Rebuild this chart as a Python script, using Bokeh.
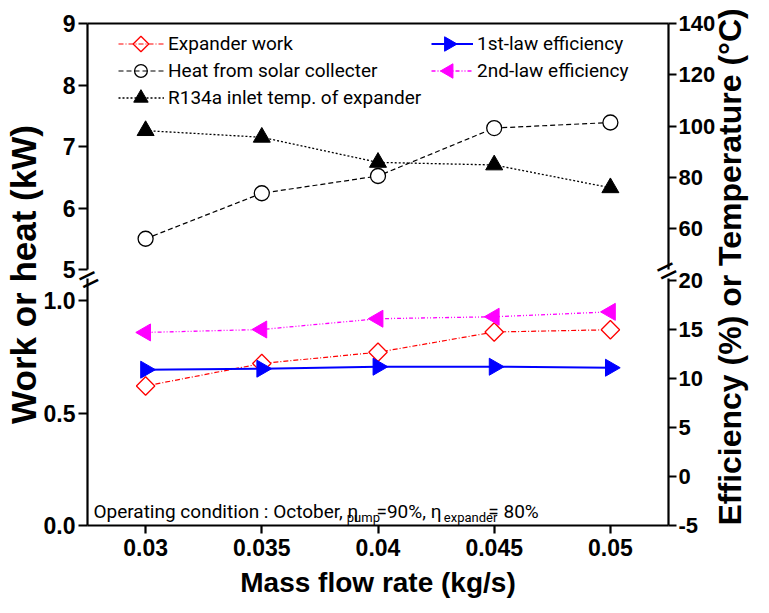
import math
from bokeh.plotting import figure
from bokeh.models import (Range1d, LinearAxis, FixedTicker, Legend, LegendItem, Label)
from bokeh.embed import file_html
from bokeh.resources import INLINE

# ---------------- data ----------------
mass_flow = [0.03, 0.035, 0.04, 0.045, 0.05]
expander_work_kw = [0.62, 0.72, 0.77, 0.86, 0.87]
solar_heat_kw = [5.50, 6.24, 6.52, 7.30, 7.39]
inlet_temp_c = [98.2, 95.6, 85.8, 84.8, 75.9]
first_law_eff = [10.9, 11.0, 11.2, 11.2, 11.1]
second_law_eff = [14.7, 15.0, 16.1, 16.3, 16.8]

x_ticks = [0.03, 0.035, 0.04, 0.045, 0.05]
x_tick_labels = ["0.03", "0.035", "0.04", "0.045", "0.05"]
kw_top_ticks = [5, 6, 7, 8, 9]
kw_bot_ticks = [0.0, 0.5, 1.0]
temp_ticks = [60, 80, 100, 120, 140]
eff_ticks = [-5, 0, 5, 10, 15, 20]

# ---------------- layout ----------------
W, H = 769, 613
BL, BR, BT, BB = 86, 96, 23, 88
FW, FH = W - BL - BR, H - BT - BB

# broken-axis scales (pixels per unit)
KW_TOP_MAX, KW_TOP_PPU = 9.0, 61.5
T_MAX, T_PPU = 140.0, 2.5625
KW_BOT_MIN, KW_BOT_PPU = 0.0, 225.0
EFF_MIN, EFF_PPU = -5.0, 9.8
BREAK_POS = 251.0


def pos_top(v, vmax, ppu):
    return FH - (vmax - v) * ppu


def pos_bot(v, vmin, ppu):
    return (v - vmin) * ppu


BOLD_FONT = "Liberation Sans"
REG_FONT = "Roboto"

p = figure(width=W, height=H, output_backend="svg", toolbar_location=None,
           x_range=Range1d(0.0275, 0.0525), y_range=Range1d(0, FH),
           y_axis_location=None,
           min_border_left=BL, min_border_right=BR, min_border_top=BT,
           min_border_bottom=BB)
p.grid.visible = False
p.outline_line_color = None
p.background_fill_color = "white"
p.border_fill_color = "white"

p.extra_y_ranges = {
    "kw_top": Range1d(KW_TOP_MAX - FH / KW_TOP_PPU, KW_TOP_MAX),
    "temp": Range1d(T_MAX - FH / T_PPU, T_MAX),
    "kw_bot": Range1d(KW_BOT_MIN, KW_BOT_MIN + FH / KW_BOT_PPU),
    "eff": Range1d(EFF_MIN, EFF_MIN + FH / EFF_PPU),
}
p.extra_x_ranges = {"pxx": Range1d(0, FW)}

# ---------------- series ----------------
l_exp = p.line(mass_flow, expander_work_kw, y_range_name="kw_bot",
               line_color="red", line_width=1.2, line_dash="5 2 1 2")
l_heat = p.line(mass_flow, solar_heat_kw, y_range_name="kw_top",
                line_color="black", line_width=1.2, line_dash="5 3")
l_temp = p.line(mass_flow, inlet_temp_c, y_range_name="temp",
                line_color="black", line_width=1.3, line_dash="2 2")
l_e1 = p.line(mass_flow, first_law_eff, y_range_name="eff",
              line_color="blue", line_width=2)
l_e2 = p.line(mass_flow, second_law_eff, y_range_name="eff",
              line_color="magenta", line_width=1.3, line_dash="4 2 1 2 1 2")

MK = dict(
    exp=dict(marker="square", angle=math.pi / 4, size=13, line_color="red",
             fill_color="white", line_width=1.3),
    heat=dict(marker="circle", size=15, line_color="black", fill_color="white",
              line_width=1.3),
    temp=dict(marker="triangle", size=17, line_color="black", fill_color="black"),
    e1=dict(marker="triangle", angle=-math.pi / 2, size=17, line_color="blue",
            fill_color="blue"),
    e2=dict(marker="triangle", angle=math.pi / 2, size=17, line_color="magenta",
            fill_color="magenta"),
)
p.scatter(mass_flow, expander_work_kw, y_range_name="kw_bot", **MK["exp"])
p.scatter(mass_flow, solar_heat_kw, y_range_name="kw_top", **MK["heat"])
p.scatter(mass_flow, inlet_temp_c, y_range_name="temp", **MK["temp"])
p.scatter(mass_flow, first_law_eff, y_range_name="eff", **MK["e1"])
p.scatter(mass_flow, second_law_eff, y_range_name="eff", **MK["e2"])

# ---------------- axes ----------------
AXIS_DASH = "247 9 300"


def style_axis(ax, size="23px"):
    ax.axis_line_width = 2.2
    ax.major_tick_line_width = 2.2
    ax.major_tick_in = 0
    ax.major_tick_out = 9
    ax.minor_tick_in = 0
    ax.minor_tick_out = 0
    ax.major_label_text_font = BOLD_FONT
    ax.major_label_text_font_style = "bold"
    ax.major_label_text_font_size = size
    ax.major_label_text_color = "black"
    ax.axis_line_color = "black"
    ax.major_tick_line_color = "black"
    ax.axis_label_text_font = BOLD_FONT
    ax.axis_label_text_font_style = "bold"
    ax.axis_label_text_color = "black"


def break_axis(standoff):
    return LinearAxis(ticker=FixedTicker(ticks=[BREAK_POS], minor_ticks=[]),
                      major_label_overrides={BREAK_POS: "="},
                      major_label_orientation=0.45,
                      major_label_text_font=BOLD_FONT,
                      major_label_text_font_size="34px",
                      major_label_text_color="black",
                      major_label_standoff=standoff,
                      major_tick_out=0, major_tick_in=0,
                      minor_tick_out=0, minor_tick_in=0,
                      axis_line_alpha=0)


left_pos = [pos_top(v, KW_TOP_MAX, KW_TOP_PPU) for v in kw_top_ticks] + \
           [pos_bot(v, KW_BOT_MIN, KW_BOT_PPU) for v in kw_bot_ticks]
left_lab = [str(v) for v in kw_top_ticks] + [f"{v:.1f}" for v in kw_bot_ticks]
yl = LinearAxis(ticker=FixedTicker(ticks=left_pos, minor_ticks=[]),
                major_label_overrides=dict(zip(left_pos, left_lab)))
style_axis(yl)
yl.major_label_standoff = 3
yl.axis_line_dash = AXIS_DASH
yl.axis_label = "Work or heat (kW)"
yl.axis_label_text_font_size = "35px"
yl.axis_label_standoff = -2
p.add_layout(yl, "left")
p.add_layout(break_axis(-97), "left")

right_pos = [pos_top(v, T_MAX, T_PPU) for v in temp_ticks] + \
            [pos_bot(v, EFF_MIN, EFF_PPU) for v in eff_ticks]
right_lab = [str(v) for v in temp_ticks] + [str(v) for v in eff_ticks]
yr = LinearAxis(ticker=FixedTicker(ticks=right_pos, minor_ticks=[]),
                major_label_overrides=dict(zip(right_pos, right_lab)))
style_axis(yr, "22px")
yr.major_tick_out = 8
yr.major_label_standoff = 2
yr.axis_line_dash = AXIS_DASH
yr.axis_label = "Efficiency (%) or Temperature (\u00b0C)"
yr.axis_label_text_font_size = "32px"
yr.axis_label_orientation = math.pi / 2
yr.axis_label_align = "start"
yr.axis_label_standoff = 12
p.add_layout(yr, "right")
p.add_layout(break_axis(-112), "right")

xb = p.xaxis[0]
xb.ticker = FixedTicker(ticks=x_ticks, minor_ticks=[])
xb.major_label_overrides = dict(zip(x_ticks, x_tick_labels))
style_axis(xb)
xb.major_tick_out = 8
xb.major_label_standoff = 5
xb.axis_label = "Mass flow rate (kg/s)"
xb.axis_label_text_font_size = "28px"
xb.axis_label_standoff = 8

xt = LinearAxis(ticker=FixedTicker(ticks=[], minor_ticks=[]),
                major_label_text_font_size="0px", major_tick_out=0, major_tick_in=0,
                minor_tick_out=0, minor_tick_in=0, axis_line_width=2.2)
p.add_layout(xt, "above")

# operating condition note with subscripts
note_parts = [
    ("Operating condition : October, \u03b7", 6, 14, "19px"),
    ("pump", 262, 8, "13px"),
    ("=90%, \u03b7", 292, 14, "19px"),
    ("expander", 360, 8, "13px"),
    ("= 80%", 405, 14, "19px"),
]
for txt, nx, ny, fs in note_parts:
    p.add_layout(Label(x=nx, y=ny, x_range_name="pxx", text=txt,
                       text_font=REG_FONT, text_font_size=fs, text_color="black",
                       text_baseline="alphabetic", text_align="left"))

# ---------------- legends ----------------
ROW = 27


def make_legend(items, loc, gw):
    return Legend(items=items, location=loc, glyph_width=gw, glyph_height=ROW,
                  spacing=0, label_height=20, padding=0, margin=0,
                  label_standoff=4, label_text_font=REG_FONT,
                  label_text_font_size="19px", label_text_color="black",
                  background_fill_alpha=0, border_line_alpha=0)


L1_X, L1_Y, L1_GW = 31, 414, 46
L2_X, L2_Y, L2_GW = 344, 441, 42
leg1 = make_legend([
    LegendItem(label="Expander work", renderers=[l_exp]),
    LegendItem(label="Heat from solar collecter", renderers=[l_heat]),
    LegendItem(label="R134a inlet temp. of expander", renderers=[l_temp]),
], (L1_X, L1_Y), L1_GW)
leg2 = make_legend([
    LegendItem(label="1st-law efficiency", renderers=[l_e1]),
    LegendItem(label="2nd-law efficiency", renderers=[l_e2]),
], (L2_X, L2_Y), L2_GW)
p.add_layout(leg1)
p.add_layout(leg2)

# legend sample markers (drawn over the legend sample lines)
for keys, lx, ly, gw in ((["exp", "heat", "temp"], L1_X, L1_Y, L1_GW),
                         (["e1", "e2"], L2_X, L2_Y, L2_GW)):
    top = ly + len(keys) * ROW
    for i, k in enumerate(keys):
        style = dict(MK[k])
        style["size"] = style["size"] * 0.85
        r = p.scatter([lx + gw / 2], [top - (i + 0.5) * ROW], x_range_name="pxx",
                      **style)
        r.level = "overlay"

open("out.html", "w").write(file_html(p, INLINE))
